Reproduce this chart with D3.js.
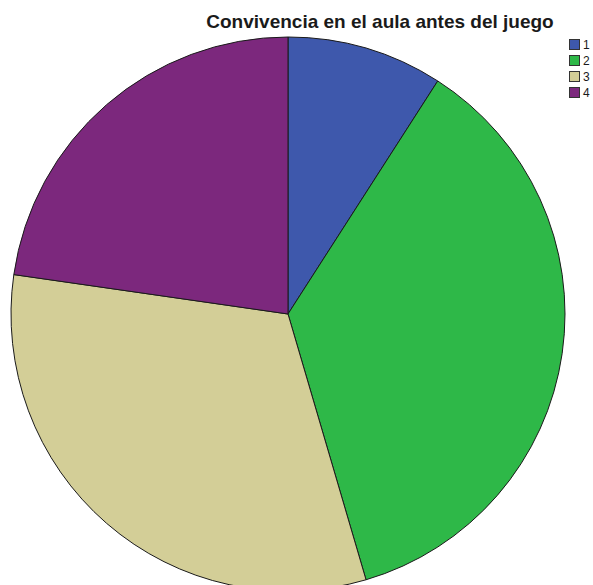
<!DOCTYPE html>
<html>
<head>
<meta charset="utf-8">
<script src="https://cdn.jsdelivr.net/npm/d3@7"></script>
<style>
  html, body { margin: 0; padding: 0; background: #ffffff; }
  svg { display: block; }
</style>
</head>
<body>
<svg id="chart" width="593" height="585"></svg>
<script>
// Frequencies of each response category
const categories = ["1", "2", "3", "4"];
const counts = [2, 8, 7, 5];
const colors = ["#3E58AC", "#2EB848", "#D3CE97", "#7C287D"];
const title = "Convivencia en el aula antes del juego";

const svg = d3.select("#chart");

const cx = 288, cy = 314, radius = 277;

const color = d3.scaleOrdinal().domain(categories).range(colors);

const data = categories.map((c, i) => ({ cat: c, value: counts[i] }));

const pie = d3.pie()
  .value(d => d.value)
  .sort(null)
  .startAngle(0)
  .endAngle(2 * Math.PI);

const arc = d3.arc().innerRadius(0).outerRadius(radius);

svg.append("g")
  .attr("transform", `translate(${cx},${cy})`)
  .selectAll("path")
  .data(pie(data))
  .join("path")
  .attr("d", arc)
  .attr("fill", d => color(d.data.cat))
  .attr("stroke", "#1a1a1a")
  .attr("stroke-width", 1);

// Title
svg.append("text")
  .attr("x", 380)
  .attr("y", 28)
  .attr("text-anchor", "middle")
  .attr("font-family", "Liberation Sans, Arial, sans-serif")
  .attr("font-weight", "bold")
  .attr("font-size", 19)
  .attr("fill", "#1a1a1a")
  .text(title);

// Legend
const legend = svg.append("g").attr("transform", "translate(569,39)");
const step = 16;
const rows = legend.selectAll("g")
  .data(categories)
  .join("g")
  .attr("transform", (d, i) => `translate(0,${i * step})`);

rows.append("rect")
  .attr("x", 0.5)
  .attr("y", 0.5)
  .attr("width", 10)
  .attr("height", 10)
  .attr("fill", d => color(d))
  .attr("stroke", "#333")
  .attr("stroke-width", 1);

rows.append("text")
  .attr("x", 14)
  .attr("y", 10)
  .attr("font-family", "Liberation Sans, Arial, sans-serif")
  .attr("font-size", 12)
  .attr("fill", "#1a1a1a")
  .text(d => d);
</script>
</body>
</html>
